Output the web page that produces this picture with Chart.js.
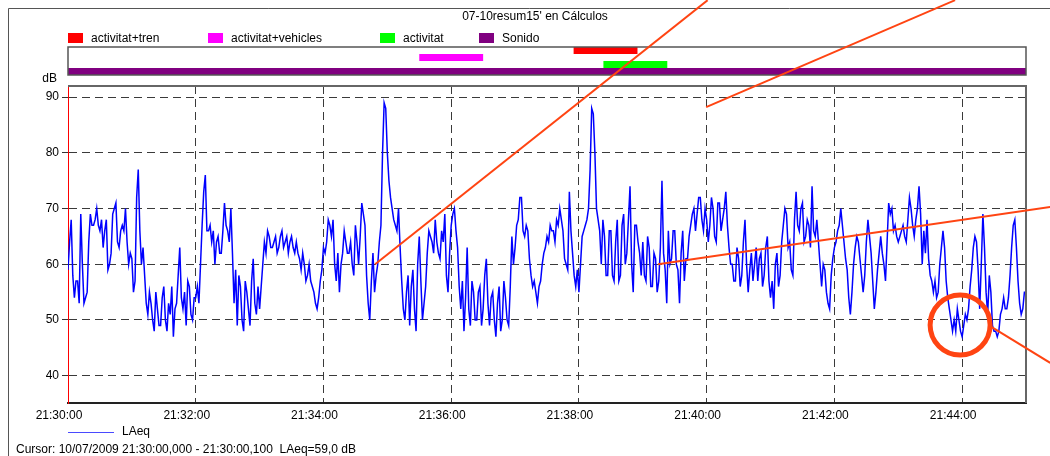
<!DOCTYPE html>
<html>
<head>
<meta charset="utf-8">
<title>07-10resum15' en Cálculos</title>
<script src="https://cdn.jsdelivr.net/npm/chart.js@4.4.1/dist/chart.umd.min.js"></script>
<style>
  html, body { margin: 0; padding: 0; background: #fff; }
  #wrap { width: 1050px; height: 456px; position: relative; }
</style>
</head>
<body>
<div id="wrap"><canvas id="laeqChart"></canvas></div>
<script>
// seconds between two LAeq samples (from 21:30:00)
var sampleStep = 1.5;

// LAeq in dB, two rows per minute
var laeq = [
    59, 64, 68, 58, 54, 57, 57, 53, 69, 60, 53, 54, 55, 64, 69, 67, 67, 68, 70, 67, // 21:30
    66, 68, 63, 66, 68, 59, 60, 62, 69, 70, 71, 64, 63, 66, 67, 66, 70, 64, 60, 62,
    61, 55, 57, 72, 77, 66, 60, 63, 58, 53, 51, 55, 53, 50, 48, 55, 52, 49, 49, 54, // 21:31
    56, 50, 48, 53, 51, 56, 47, 52, 53, 58, 63, 54, 52, 55, 49, 57, 56, 51, 50, 54,
    54, 56, 53, 60, 67, 73, 76, 66, 66, 67, 64, 66, 60, 64, 65, 62, 62, 66, 71, 67, // 21:32
    66, 64, 70, 62, 53, 59, 49, 58, 56, 50, 48, 57, 55, 52, 49, 57, 61, 53, 51, 56,
    52, 56, 60, 64, 62, 66, 65, 63, 63, 64, 65, 62, 63, 65, 66, 63, 64, 65, 62, 64, // 21:33
    65, 63, 62, 64, 62, 61, 59, 62, 60, 57, 58, 60, 57, 56, 55, 53, 52, 54, 57, 59,
    63, 62, 64, 68, 67, 65, 68, 60, 57, 62, 55, 60, 62, 66, 64, 62, 62, 64, 60, 58, // 21:34
    67, 64, 60, 65, 71, 69, 67, 58, 53, 50, 57, 62, 55, 58, 60, 64, 67, 80, 89, 88,
    80, 75, 72, 70, 68, 67, 66, 70, 63, 57, 52, 50, 55, 58, 49, 56, 59, 52, 48, 60, // 21:35
    65, 57, 50, 53, 56, 62, 66, 65, 64, 62, 68, 64, 62, 61, 66, 64, 69, 58, 55, 62,
    67, 69, 70, 66, 63, 56, 52, 57, 48, 54, 63, 52, 49, 57, 55, 50, 50, 55, 56, 49, // 21:36
    52, 58, 61, 53, 49, 54, 55, 50, 47, 53, 56, 48, 50, 57, 54, 50, 49, 56, 65, 60,
    63, 67, 68, 72, 72, 66, 65, 67, 66, 61, 58, 56, 57, 55, 53, 56, 57, 60, 62, 63, // 21:37
    65, 64, 67, 66, 66, 64, 68, 67, 70, 68, 66, 61, 60, 59, 73, 66, 62, 58, 56, 59,
    55, 60, 65, 66, 67, 68, 70, 77, 88, 87, 80, 70, 68, 66, 60, 68, 65, 58, 58, 66, // 21:38
    66, 58, 57, 64, 68, 57, 58, 67, 69, 60, 62, 68, 74, 60, 55, 67, 67, 64, 62, 58,
    64, 58, 57, 65, 63, 56, 56, 62, 61, 55, 57, 63, 75, 62, 59, 53, 66, 60, 61, 66, // 21:39
    66, 60, 59, 53, 62, 66, 57, 61, 61, 65, 67, 69, 70, 66, 69, 72, 72, 68, 66, 70,
    68, 64, 67, 72, 70, 65, 64, 71, 71, 66, 68, 70, 73, 67, 63, 60, 60, 57, 57, 63, // 21:40
    61, 56, 58, 64, 68, 60, 55, 59, 62, 57, 60, 63, 57, 61, 62, 56, 58, 63, 65, 57,
    54, 57, 52, 60, 62, 56, 58, 64, 67, 70, 69, 63, 64, 59, 58, 68, 73, 67, 66, 70, // 21:41
    71, 64, 65, 68, 67, 63, 74, 66, 65, 68, 64, 60, 56, 60, 59, 55, 53, 52, 58, 61,
    63, 64, 66, 67, 70, 67, 64, 61, 59, 54, 51, 55, 60, 63, 65, 64, 61, 58, 55, 58, // 21:42
    64, 68, 65, 62, 57, 52, 55, 59, 62, 65, 62, 60, 57, 64, 71, 69, 70, 66, 67, 65,
    64, 65, 66, 67, 65, 64, 68, 72, 70, 67, 65, 68, 70, 74, 69, 60, 66, 62, 68, 61, // 21:43
    58, 57, 55, 57, 54, 55, 60, 63, 66, 63, 57, 54, 52, 50, 48, 50, 48, 52, 50, 48,
    47, 49, 51, 50, 52, 56, 59, 63, 65, 64, 59, 52, 60, 69, 63, 55, 51, 58, 55, 49, // 21:44
    48, 48, 47, 48, 51, 52, 54, 52, 52, 54, 58, 63, 67, 68, 63, 57, 53, 51, 52, 55,
    55                                                                              // 21:45
];

var tickSeconds = [0, 120, 240, 360, 480, 600, 720, 840];
var tickLabels = ['21:30:00', '21:32:00', '21:34:00', '21:36:00', '21:38:00', '21:40:00', '21:42:00', '21:44:00'];
var yTicks = [40, 50, 60, 70, 80, 90];

// events of the top strip, seconds from 21:30:00
var eventNames = ['activitat+tren', 'activitat+vehicles', 'activitat', 'Sonido'];
var eventStart = [475, 330, 503, 0];
var eventEnd = [535, 390, 563, 900];
var eventColors = ['#ff0000', '#ff00ff', '#00ff00', '#800080'];

var chartTitle = "07-10resum15' en Cálculos";
var cursorText = 'Cursor: 10/07/2009 21:30:00,000 - 21:30:00,100  LAeq=59,0 dB';

// hand drawn marks on the screenshot, in chart units (seconds, dB)
var markLines = [
    [288.5, 60.0, 600.9, 107.4],
    [599.5, 88.2, 833.4, 107.4],
    [554.4, 60.0, 922.7, 70.3],
    [866.3, 48.9, 922.7, 42.3]
];
var markCircle = [838.1, 49.1];

var FONT = '"Liberation Sans", Arial, sans-serif';
Chart.defaults.font.family = FONT;
Chart.defaults.font.size = 12;
Chart.defaults.color = '#000';

var points = laeq.map(function(v, i) {
    return {x: i * sampleStep, y: v};
});

var decor = {
    id: 'decor',
    beforeDraw: function(chart) {
        var ctx = chart.ctx;
        ctx.save();
        ctx.fillStyle = '#fff';
        ctx.fillRect(0, 0, chart.width, chart.height);
        ctx.restore();
    },
    afterDraw: function(chart) {
        var ctx = chart.ctx;
        var x = chart.scales.x;
        var y = chart.scales.y;
        var a = chart.chartArea;
        ctx.save();

        // outer frame
        ctx.strokeStyle = '#555';
        ctx.lineWidth = 1;
        ctx.beginPath();
        ctx.moveTo(8.5, chart.height);
        ctx.lineTo(8.5, 8.5);
        ctx.lineTo(chart.width, 8.5);
        ctx.stroke();

        ctx.font = '12px ' + FONT;
        ctx.fillStyle = '#000';
        ctx.textBaseline = 'middle';
        ctx.textAlign = 'center';
        ctx.fillText(chartTitle, 535, 17);

        // legend
        var legendX = [68, 208, 380, 479];
        ctx.textAlign = 'left';
        for (var i = 0; i < eventNames.length; i++) {
            ctx.fillStyle = eventColors[i];
            ctx.fillRect(legendX[i], 33, 15, 10);
            ctx.fillStyle = '#000';
            ctx.fillText(eventNames[i], legendX[i] + 23, 38.5);
        }

        // event strip
        var rowTop = 47, rowH = 7;
        for (var j = 0; j < eventNames.length; j++) {
            var x0 = x.getPixelForValue(eventStart[j]);
            var x1 = x.getPixelForValue(eventEnd[j]);
            ctx.fillStyle = eventColors[j];
            ctx.fillRect(x0, rowTop + j * rowH, x1 - x0, rowH);
        }
        ctx.strokeStyle = '#555';
        ctx.lineWidth = 1.5;
        ctx.strokeRect(a.left, rowTop, a.right - a.left, rowH * 4);

        // top and right border of the plot
        ctx.strokeStyle = '#666';
        ctx.lineWidth = 2;
        ctx.beginPath();
        ctx.moveTo(a.left, a.top);
        ctx.lineTo(a.right, a.top);
        ctx.lineTo(a.right, a.bottom);
        ctx.stroke();

        ctx.fillStyle = '#000';
        ctx.textAlign = 'right';
        ctx.fillText('dB', 57, 79);

        // series legend + cursor line
        ctx.strokeStyle = '#4a4aff';
        ctx.lineWidth = 1;
        ctx.beginPath();
        ctx.moveTo(68, 432.5);
        ctx.lineTo(114, 432.5);
        ctx.stroke();
        ctx.textAlign = 'left';
        ctx.fillText('LAeq', 122, 432);
        ctx.fillText(cursorText, 16, 450);

        // marks
        ctx.strokeStyle = '#ff4412';
        ctx.lineWidth = 2;
        markLines.forEach(function(m) {
            ctx.beginPath();
            ctx.moveTo(x.getPixelForValue(m[0]), y.getPixelForValue(m[1]));
            ctx.lineTo(x.getPixelForValue(m[2]), y.getPixelForValue(m[3]));
            ctx.stroke();
        });
        ctx.lineWidth = 5;
        ctx.beginPath();
        ctx.arc(x.getPixelForValue(markCircle[0]), y.getPixelForValue(markCircle[1]), 30, 0, Math.PI * 2);
        ctx.stroke();

        ctx.restore();
    }
};

var ctx = document.getElementById('laeqChart').getContext('2d');
var chart = new Chart(ctx, {
    type: 'line',
    data: {
        datasets: [{
            label: 'LAeq',
            data: points,
            borderColor: '#0000ff',
            borderWidth: 1.5,
            pointRadius: 0,
            tension: 0,
            fill: false
        }]
    },
    options: {
        responsive: true,
        maintainAspectRatio: false,
        animation: false,
        events: [],
        layout: {
            padding: {left: 0, right: 24, top: 86, bottom: 0}
        },
        plugins: {
            legend: {display: false},
            title: {display: false},
            tooltip: {enabled: false}
        },
        scales: {
            x: {
                type: 'linear',
                min: 0,
                max: 900,
                afterBuildTicks: function(s) {
                    s.ticks = tickSeconds.map(function(v) { return {value: v}; });
                },
                afterFit: function(s) { s.height = 53; },
                ticks: {
                    autoSkip: false,
                    maxRotation: 0,
                    padding: 5,
                    labelOffset: -9,
                    callback: function(v) { return tickLabels[tickSeconds.indexOf(v)]; }
                },
                grid: {
                    color: function(c) {
                        return c.tick && c.tick.value === 0 ? 'rgba(0,0,0,0)' : '#3a3a3a';
                    },
                    lineWidth: 1,
                    drawTicks: false
                },
                border: {color: '#222', width: 2, dash: [8, 5]}
            },
            y: {
                min: 35.1,
                max: 92,
                afterBuildTicks: function(s) {
                    s.ticks = yTicks.map(function(v) { return {value: v}; });
                },
                afterFit: function(s) { s.width = 68; },
                ticks: {padding: 3},
                grid: {
                    color: '#3a3a3a',
                    lineWidth: 1,
                    tickLength: 6,
                    tickColor: '#333',
                    tickBorderDash: []
                },
                border: {color: '#ff0000', width: 1, dash: [8, 5]}
            }
        }
    },
    plugins: [decor]
});
</script>
</body>
</html>
